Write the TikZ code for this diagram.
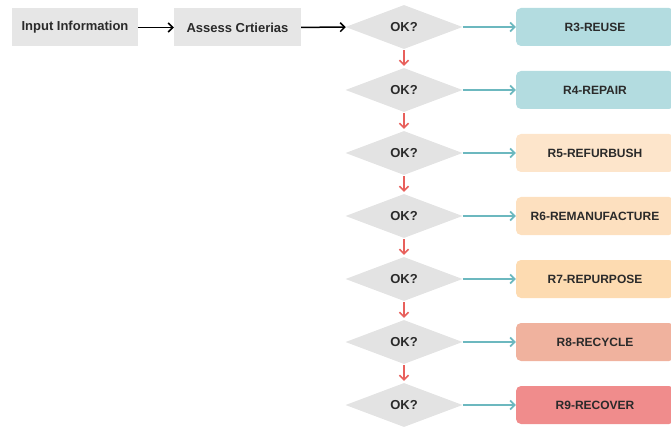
\documentclass[tikz,border=0pt]{standalone}
\usepackage{fontspec}
\setmainfont{Liberation Sans}
\usetikzlibrary{shapes.geometric,arrows.meta,positioning}
\definecolor{boxgrey}{HTML}{E6E6E6}
\definecolor{diagrey}{HTML}{E3E3E3}
\definecolor{txtgrey}{HTML}{2A2A2A}
\definecolor{okteal}{HTML}{6CB8BF}
\definecolor{nored}{HTML}{E8605C}
\definecolor{rteal}{HTML}{B3DCE0}
\definecolor{rpeachA}{HTML}{FDE5CB}
\definecolor{rpeachB}{HTML}{FDE0BF}
\definecolor{rpeachC}{HTML}{FDDBB1}
\definecolor{rsalmon}{HTML}{F0B29E}
\definecolor{rrose}{HTML}{F08C8C}
\tikzset{
  lbl/.style={font=\bfseries\fontsize{13}{15}\selectfont, text=txtgrey},
  greybox/.style={lbl, fill=boxgrey, minimum height=38pt, inner sep=0pt},
  okdiamond/.style={lbl, diamond, fill=diagrey, minimum width=117pt, minimum height=44pt, inner sep=0pt},
  rbox/.style={lbl, font=\bfseries\fontsize{12}{14}\selectfont, rounded corners=5pt,
    minimum width=158pt, minimum height=38pt, inner sep=0pt},
  flow/.style={->, line width=1.5pt, black},
  yes/.style={->, line width=1.7pt, okteal},
  no/.style={->, line width=1.5pt, nored, shorten >=2pt, shorten <=1pt},
}
\begin{document}
\begin{tikzpicture}[x=1pt,y=-1pt,>={Straight Barb[length=4.5pt,width=9pt]}]
  \useasboundingbox (0,0) rectangle (671,430);
  \clip (0,0) rectangle (671,430);
  % input chain
  \node[greybox, minimum width=126pt] (input) at (75,27.5) {Input Information};
  \node[greybox, minimum width=127pt] (assess) at (237.5,27.5) {Assess Crtierias};
  \draw[flow] (input) -- (assess);
  % decisions and outcomes
  \foreach \i/\name/\col in {3/REUSE/rteal, 4/REPAIR/rteal, 5/REFURBUSH/rpeachA,
      6/REMANUFACTURE/rpeachB, 7/REPURPOSE/rpeachC, 8/RECYCLE/rsalmon, 9/RECOVER/rrose}{
    \pgfmathsetmacro\yy{27+(\i-3)*63}
    \node[okdiamond] (ok\i) at (404,\yy) {OK?};
    \node[rbox, fill=\col] (r\i) at (595,\yy) {R\i-\name};
    \draw[yes] (ok\i) -- (r\i);
  }
  \draw[flow] (assess) -- (ok3);
  \foreach \i [evaluate=\i as \j using int(\i+1)] in {3,...,8}
    \draw[no] (ok\i) -- (ok\j);
\end{tikzpicture}
\end{document}
